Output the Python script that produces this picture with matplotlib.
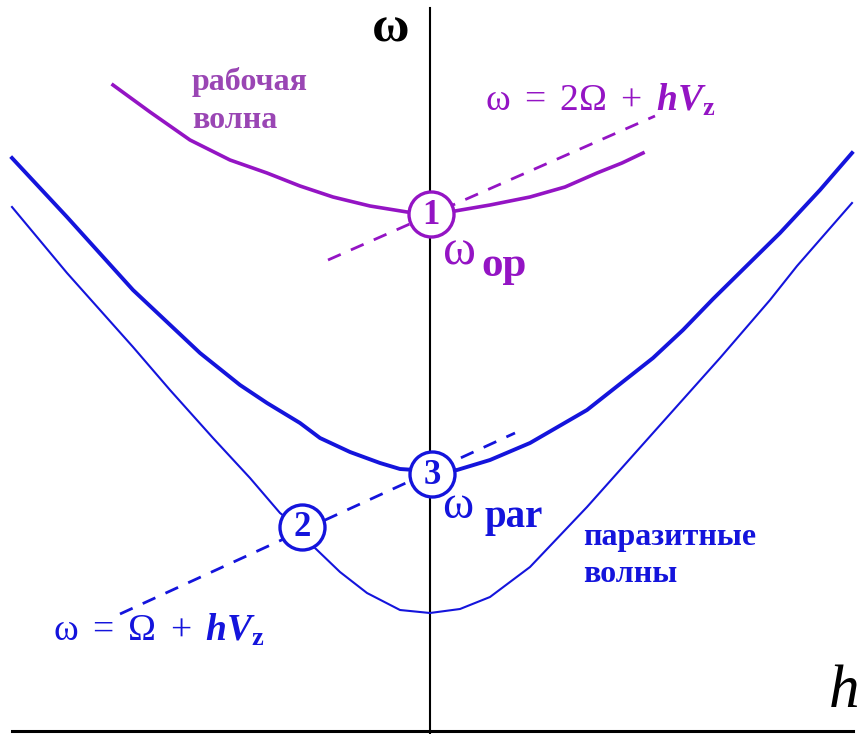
import matplotlib.pyplot as plt

# curve points (pixel coords, y grows downward)
work_x = [113, 150, 190, 230, 267, 300, 333, 370, 407, 430, 455, 490, 530, 565, 597, 622, 643]
work_y = [85, 112, 140, 160, 173, 186, 197, 206, 212, 213, 211, 205, 197, 187, 173, 163, 153]

par1_x = [12, 67, 133, 200, 240, 267, 300, 320, 350, 380, 400, 430, 457, 490, 530, 587, 620,
          653, 683, 713, 780, 820, 852]
par1_y = [158, 217, 290, 353, 385, 403, 423, 438, 452, 463, 469, 471, 470, 460, 443, 410, 384,
          358, 330, 299, 233, 190, 153]

par2_x = [12, 67, 133, 170, 213, 250, 280, 302, 315, 340, 367, 400, 430, 460, 490, 530, 587,
          653, 720, 770, 797, 852]
par2_y = [207, 273, 347, 390, 438, 478, 513, 530, 548, 572, 593, 610, 613, 609, 597, 567, 507,
          433, 358, 300, 266, 203]

dash1_x = [328, 655]
dash1_y = [260, 116]
dash2_x = [120, 515]
dash2_y = [614, 433]

circ_x = [431, 302, 432]
circ_y = [214, 527, 474]
circ_lbl = ["1", "2", "3"]

purple = "#9414C4"
purple_txt = "#9A46B4"
blue = "#1414DC"

plt.rcParams['mathtext.fontset'] = 'custom'
plt.rcParams['mathtext.rm'] = 'Liberation Serif'
plt.rcParams['mathtext.it'] = 'Liberation Serif:italic'
plt.rcParams['mathtext.bf'] = 'Liberation Serif:bold'
plt.rcParams['mathtext.bfit'] = 'Liberation Serif:bold:italic'

fig = plt.figure(figsize=(8.63, 7.34), dpi=100)
ax = fig.add_axes([0, 0, 1, 1])
ax.set_xlim(0, 863)
ax.set_ylim(734, 0)
ax.axis('off')

# axes
ax.plot([430, 430], [8, 734], color='black', lw=1.5)
ax.plot([12, 853], [731, 731], color='black', lw=2.2)

ax.plot(work_x, work_y, color=purple, lw=2.6, solid_joinstyle='round')
ax.plot(par1_x, par1_y, color=blue, lw=2.8, solid_joinstyle='round')
ax.plot(par2_x, par2_y, color=blue, lw=1.5, solid_joinstyle='round')
ax.plot(dash1_x, dash1_y, color=purple, lw=2, ls=(0, (5, 4)))
ax.plot(dash2_x, dash2_y, color=blue, lw=2, ls=(0, (5, 4)))

for i in range(3):
    c = purple if i == 0 else blue
    ax.scatter(circ_x[i], circ_y[i], s=1050, facecolor='white', edgecolor=c, lw=2.4, zorder=5)
    ax.text(circ_x[i], circ_y[i] + 1, circ_lbl[i], color=c, fontsize=25, family='Liberation Serif',
            weight='bold', ha='center', va='center', zorder=6)

ax.text(391, 29, "ω", fontsize=37, family='Liberation Serif', weight='bold', ha='center', va='center')
ax.text(844, 692, "h", fontsize=44, family='Liberation Serif', style='italic', ha='center', va='center')

ax.text(192, 82, "рабочая", color=purple_txt, fontsize=23, family='Liberation Serif', weight='bold',
        va='center')
ax.text(192, 120, "волна", color=purple_txt, fontsize=23, family='Liberation Serif', weight='bold',
        va='center')
ax.text(583, 537, "паразитные", color=blue, fontsize=23, family='Liberation Serif', weight='bold',
        va='center')
ax.text(583, 575, "волны", color=blue, fontsize=23, family='Liberation Serif', weight='bold',
        va='center')

ax.text(485, 100, r"$\mathrm{ω\ =\ 2Ω\ +\ }\mathbfit{hV}_{\mathbf{z}}$", color=purple, fontsize=27,
        va='center')
ax.text(53, 630, r"$\mathrm{ω\ =\ Ω\ +\ }\mathbfit{hV}_{\mathbf{z}}$", color=blue, fontsize=27,
        va='center')

ax.text(443, 252, "ω", color=purple, fontsize=36, family='Liberation Serif', va='center')
ax.text(481, 266, "op", color=purple, fontsize=31, family='Liberation Serif', weight='bold', va='center')
ax.text(442, 507, "ω", color=blue, fontsize=34, family='Liberation Serif', va='center')
ax.text(484, 517, "par", color=blue, fontsize=28, family='Liberation Serif', weight='bold', va='center')

fig.savefig('out.png', dpi=100)
